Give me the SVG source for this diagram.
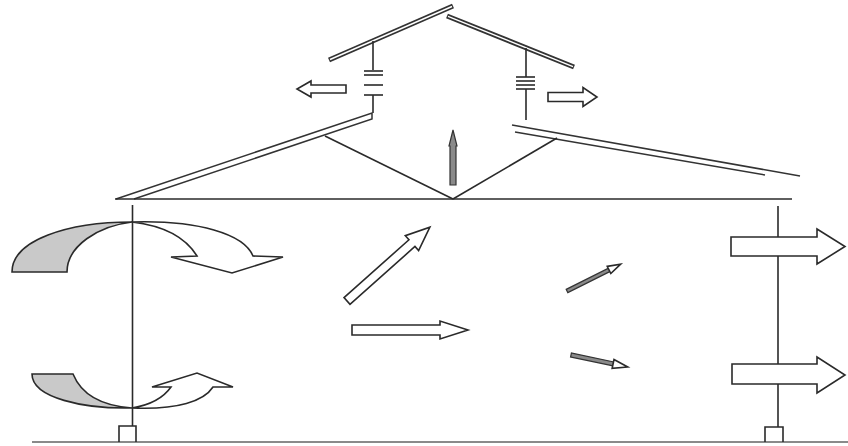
<svg xmlns="http://www.w3.org/2000/svg" width="848" height="446" viewBox="0 0 848 446">
  <defs>
    <style>
      .ln { fill: none; stroke: #2a2a2a; stroke-width: 1.6; stroke-linecap: butt; }
      .rail-dark { fill: none; stroke: #333; stroke-width: 5; }
      .rail-gap { fill: none; stroke: #fff; stroke-width: 1.4; }
      .thin { fill: none; stroke: #333; stroke-width: 1.5; }
      .arrow { fill: #fff; stroke: #2a2a2a; stroke-width: 1.6; stroke-linejoin: miter; }
      .shade { fill: #c9c9c9; stroke: #2a2a2a; stroke-width: 1.6; }
      .dark { fill: #8a8a8a; stroke: #333; stroke-width: 1.2; }
      .ground { fill: none; stroke: #8a8a8a; stroke-width: 2; }
    </style>
  </defs>
  <rect width="848" height="446" fill="#fff"/>

  <!-- upper roof (ridge vents) -->
  <g id="upper-roof">
    <line class="rail-dark" x1="329" y1="60" x2="453" y2="6"/>
    <line class="rail-gap" x1="330" y1="59.5" x2="452" y2="6.5"/>
    <line class="rail-dark" x1="447" y1="16" x2="574" y2="67"/>
    <line class="rail-gap" x1="448" y1="16.4" x2="573" y2="66.6"/>
  </g>

  <!-- vent stacks -->
  <g id="vent-left">
    <line class="ln" x1="373" y1="41" x2="373" y2="70"/>
    <line class="ln" x1="364" y1="71" x2="383" y2="71"/>
    <line class="ln" x1="364" y1="75" x2="383" y2="75"/>
    <line class="ln" x1="364" y1="85" x2="383" y2="85"/>
    <line class="ln" x1="364" y1="95" x2="383" y2="95"/>
    <line class="ln" x1="373" y1="95" x2="373" y2="113"/>
  </g>
  <g id="vent-right">
    <line class="ln" x1="526" y1="48" x2="526" y2="77"/>
    <line class="ln" x1="516" y1="77" x2="535" y2="77"/>
    <line class="ln" x1="516" y1="81" x2="535" y2="81"/>
    <line class="ln" x1="516" y1="85" x2="535" y2="85"/>
    <line class="ln" x1="516" y1="89" x2="535" y2="89"/>
    <line class="ln" x1="526" y1="89" x2="526" y2="120"/>
  </g>

  <!-- lower roof and truss -->
  <g id="lower-roof">
    <path class="thin" d="M116,199 L372,113 L372,119 L134,199"/>
    <line class="thin" x1="512" y1="125" x2="800" y2="176"/>
    <line class="thin" x1="515" y1="132" x2="765" y2="175"/>
  </g>
  <g id="truss">
    <line class="ln" x1="115" y1="199" x2="792" y2="199" stroke-width="2"/>
    <line class="ln" x1="325" y1="136" x2="453" y2="199"/>
    <line class="ln" x1="453" y1="199" x2="557" y2="138"/>
  </g>

  <!-- ground, posts and footings -->
  <g id="ground">
    <line class="ground" x1="32" y1="442" x2="848" y2="442"/>
  </g>
  <g id="post-left">
    <line class="ln" x1="132.5" y1="205" x2="132.5" y2="426"/>
    <path class="ln" d="M119,442 V426 H136 V442"/>
  </g>
  <g id="post-right">
    <line class="ln" x1="778" y1="206" x2="778" y2="427"/>
    <path class="ln" d="M765,442 V427 H783 V442"/>
  </g>

  <g id="connectors">
    <!-- exhaust through the ridge vents -->
    <polygon class="arrow" points="346,85 311,85 311,81 297,89 311,97 311,93 346,93"/>
    <polygon class="arrow" points="548,92.5 583,92.5 583,87.5 597,97 583,106.5 583,101.5 548,101.5"/>
    <!-- rising air under the ridge -->
    <polygon class="dark" fill="#999" points="450,185 450,146 449,146 453,130 457,146 456,146 456,185"/>

    <!-- swirl at the upper left -->
    <path class="shade" d="M12,272 C12,240 68,222 132,222 C98,226 67,246 67,272 Z"/>
    <path class="arrow" d="M132,222 C198,220 244,234 253,256 L283,257 L232,273 L171,257 L197,256 C186,238 166,226 132,222 Z"/>
    <!-- swirl at the lower left -->
    <path class="shade" d="M32,374 L73,374 C82,396 104,406 132,408 C84,409 32,398 32,374 Z"/>
    <path class="arrow" d="M132,408 C150,405 164,397 171,387 L152,387 L197,373 L233,387 L213,387 C204,401 178,410 132,408 Z"/>

    <!-- interior flow -->
    <polygon class="arrow" transform="translate(347,301) rotate(-41.7)" points="0,-4.5 87,-4.5 87,-10 111,0 87,10 87,4.5 0,4.5"/>
    <polygon class="arrow" transform="translate(352,330)" points="0,-5 88,-5 88,-9 116,0 88,9 88,5 0,5"/>
    <g transform="translate(567,291) rotate(-26.6)">
      <polygon class="dark" points="0,-1.8 48,-1.8 48,1.8 0,1.8"/>
      <polygon class="arrow" stroke-width="1.2" points="47,-4 60,0 47,4"/>
    </g>
    <g transform="translate(571,355) rotate(11.9)">
      <polygon class="dark" points="0,-2 44,-2 44,2 0,2"/>
      <polygon class="arrow" stroke-width="1.2" points="43,-4.5 58,0 43,4.5"/>
    </g>

    <!-- outflow through the right wall -->
    <polygon class="arrow" points="731,237 817,237 817,229 845,246.5 817,264 817,256 731,256"/>
    <polygon class="arrow" points="732,364 817,364 817,357 845,375 817,393 817,384 732,384"/>
  </g>
</svg>
